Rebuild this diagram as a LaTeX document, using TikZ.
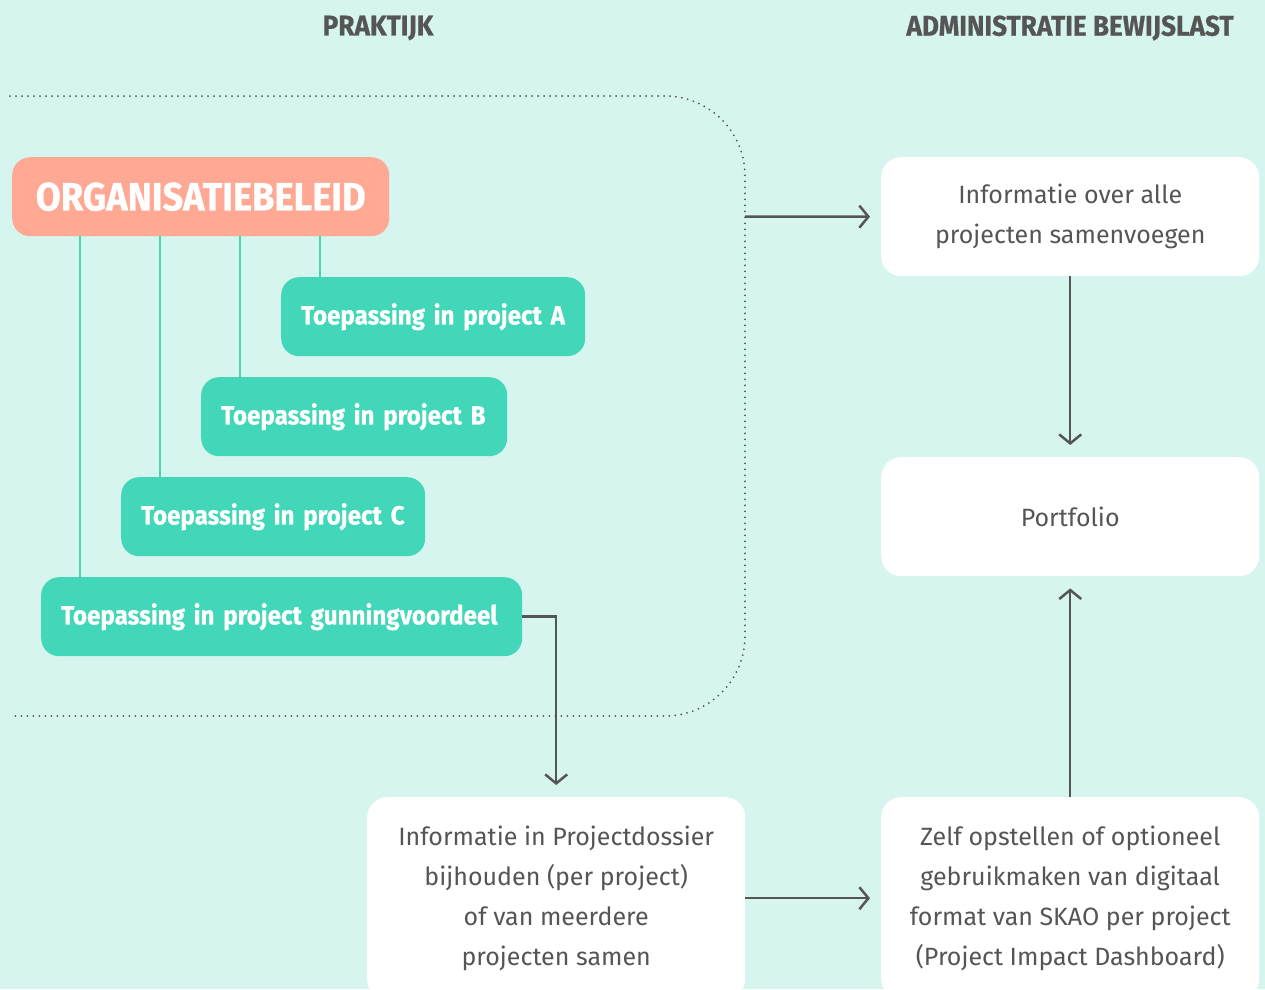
\documentclass[tikz,border=0pt]{standalone}
\usepackage{fontspec}
\setmainfont{Fira Sans}
\newfontfamily\kopfont{Fira Sans}[FakeStretch=0.92,BoldFeatures={FakeBold=0.6}]
\usepackage{tikz}
\definecolor{achter}{HTML}{D6F5EE}
\definecolor{zalm}{HTML}{FFA894}
\definecolor{munt}{HTML}{41D7B8}
\definecolor{grijs}{HTML}{555555}
\usetikzlibrary{arrows.meta,calc}

\begin{document}
\begin{tikzpicture}[x=1pt,y=-1pt,
  kop/.style={font=\kopfont\bfseries\fontsize{28.5}{28.5}\selectfont,text=grijs},
  beleid/.style={rectangle,rounded corners=18pt,fill=zalm,text=white,
    font=\kopfont\bfseries\fontsize{39.5}{39.5}\selectfont,
    minimum width=377pt,minimum height=79pt,anchor=north west,inner sep=0pt},
  toepassing/.style={rectangle,rounded corners=18pt,fill=munt,text=white,
    font=\kopfont\bfseries\fontsize{26.3}{26.3}\selectfont,
    text width=#1,minimum height=79pt,anchor=north west,
    inner xsep=20pt,inner ysep=0pt,align=left},
  wit/.style={rectangle,rounded corners=20pt,fill=white,text=grijs,
    font=\fontsize{25}{40}\selectfont,align=center,
    minimum width=378pt,minimum height=#1,anchor=north west,inner sep=0pt},
  tak/.style={draw=munt,line width=2.8pt},
  pijl/.style={draw=grijs,line width=2.5pt,-{Straight Barb[length=9pt,width=22pt]}},
  grens/.style={draw=grijs,line width=2pt,line cap=round,
    dash pattern=on 0pt off 6pt,rounded corners=80pt}]

  \useasboundingbox (0,0) rectangle (1265,989);
  \fill[achter] (0,0) rectangle (1265,989);

  \node[kop] (praktijk) at (378,28) {PRAKTIJK};
  \node[kop] (admin) at (1070,28) {ADMINISTRATIE BEWIJSLAST};

  \draw[grens] (10,96) -- (745,96) -- (745,716) -- (10,716);
  \coordinate (uitgang) at (745,216.5);

  \node[beleid] (org) at (12,157) {ORGANISATIEBELEID};

  \node[toepassing=264pt] (projA) at (281,277) {Toepassing in project A};
  \node[toepassing=266pt] (projB) at (201,377) {Toepassing in project B};
  \node[toepassing=264pt] (projC) at (121,477) {Toepassing in project C};
  \node[toepassing=441pt] (projG) at (41,577) {Toepassing in project gunningvoordeel};

  \coordinate (tA) at ($(org.south west)+(308,0)$);
  \coordinate (tB) at ($(org.south west)+(228,0)$);
  \coordinate (tC) at ($(org.south west)+(148,0)$);
  \coordinate (tG) at ($(org.south west)+(68,0)$);
  \draw[tak] (tA) -- (tA |- projA.north);
  \draw[tak] (tB) -- (tB |- projB.north);
  \draw[tak] (tC) -- (tC |- projC.north);
  \draw[tak] (tG) -- (tG |- projG.north);

  \node[wit=119pt] (info) at (881,157)
    {Informatie over alle\\projecten samenvoegen};
  \node[wit=119pt] (portfolio) at (881,457) {Portfolio};
  \node[wit=202pt] (dossier) at (367,797)
    {Informatie in Projectdossier\\bijhouden (per project)\\of van meerdere\\projecten samen};
  \node[wit=202pt] (zelf) at (881,797)
    {Zelf opstellen of optioneel\\gebruikmaken van digitaal\\format van SKAO per project\\(Project Impact Dashboard)};

  \draw[pijl] (projG.east) -| ([yshift=12pt]dossier.north);
  \draw[pijl] (uitgang) -- ([xshift=-11pt]info.west);
  \draw[pijl] (info.south) -- ([yshift=12pt]portfolio.north);
  \draw[pijl] (zelf.north) -- ([yshift=-12pt]portfolio.south);
  \draw[pijl] (dossier.east) -- ([xshift=-11pt]zelf.west);

\end{tikzpicture}
\end{document}
